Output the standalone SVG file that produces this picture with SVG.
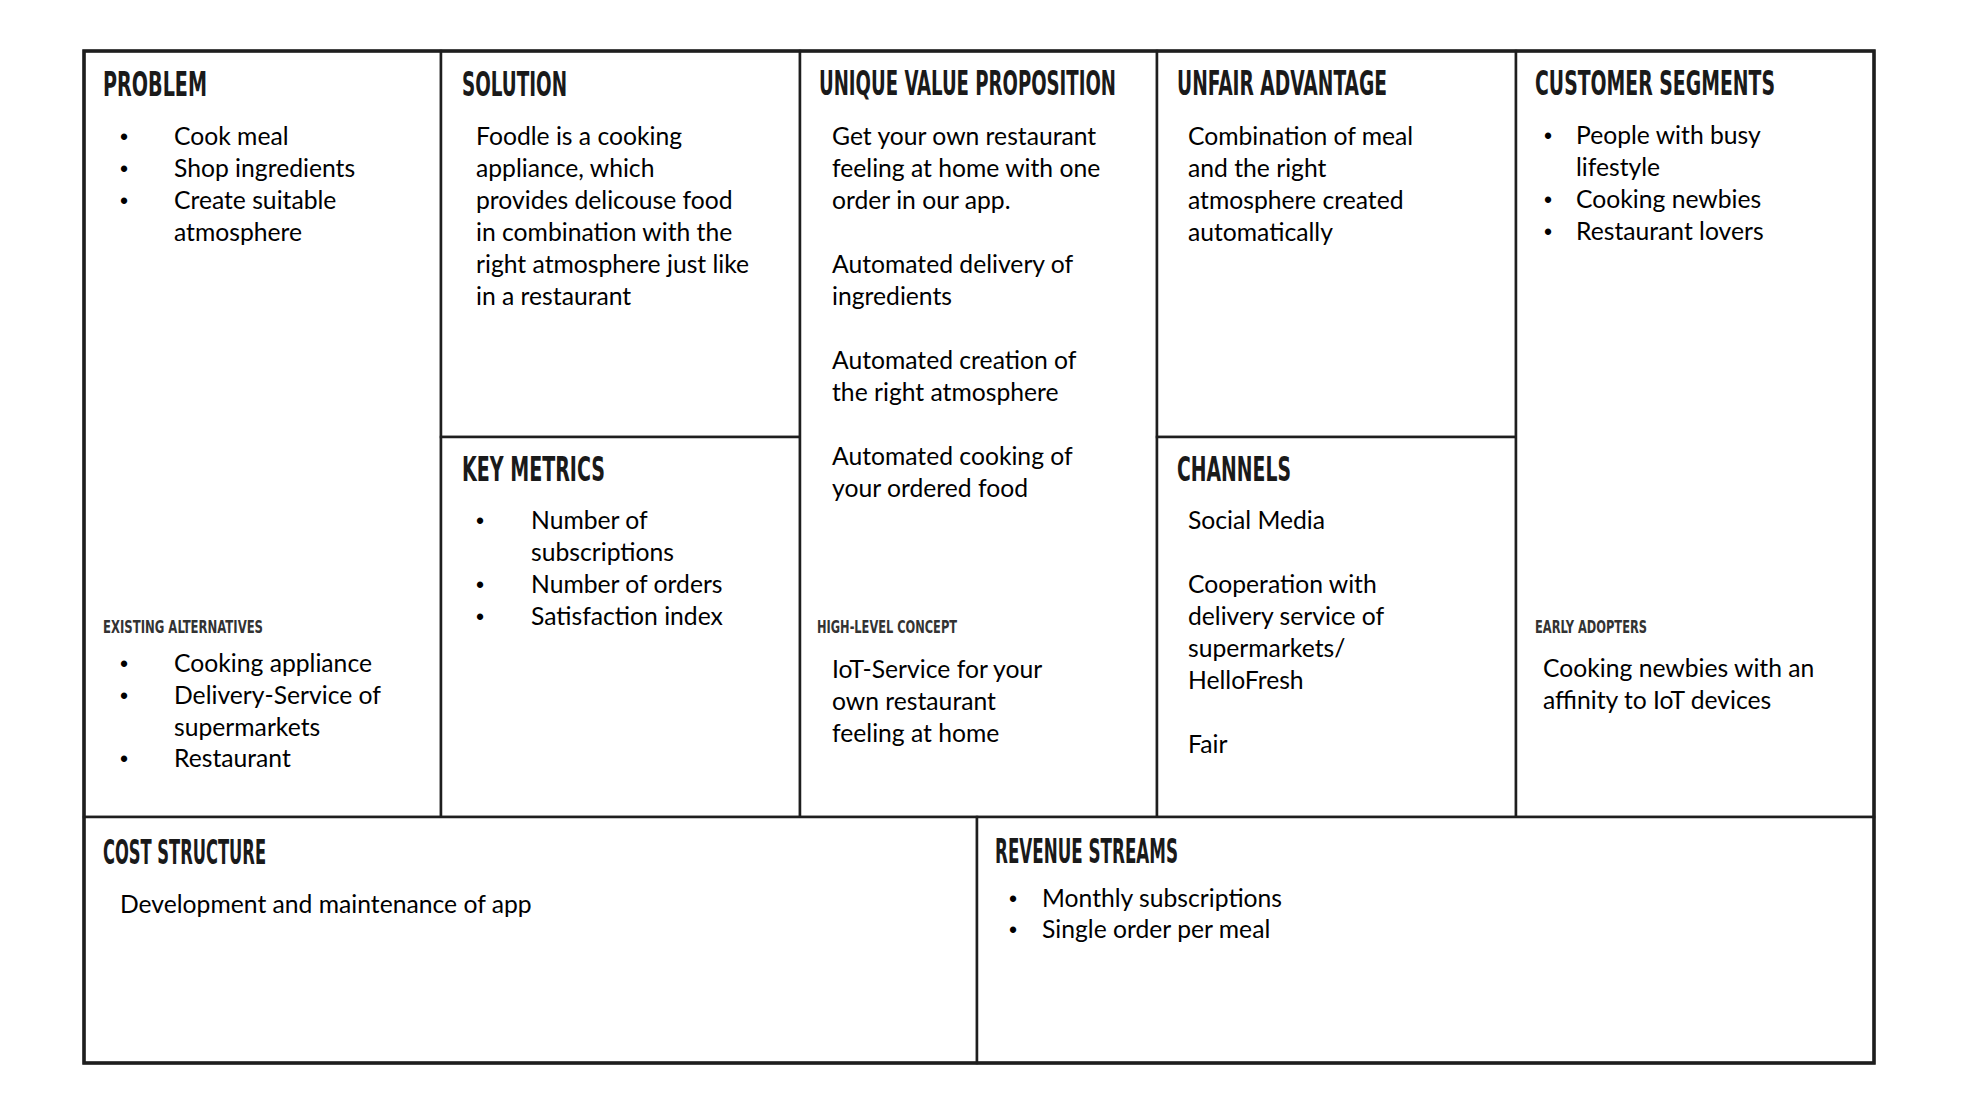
<svg xmlns="http://www.w3.org/2000/svg" width="1966" height="1096" viewBox="0 0 1966 1096">
<style>
.cell{fill:#fff;stroke:#1e1e1e;stroke-width:2.5}
.outer{fill:none;stroke:#1e1e1e;stroke-width:3.5}
.t{font-family:"Liberation Sans Narrow","DejaVu Sans Condensed","Liberation Sans",sans-serif;font-weight:bold;font-size:33px;fill:#1a1a1a}
.s{font-family:"Liberation Sans Narrow","DejaVu Sans Condensed","Liberation Sans",sans-serif;font-weight:bold;font-size:17px;fill:#333}
.b{font-family:Lato,"Open Sans","Liberation Sans",sans-serif;font-size:24.7px;fill:#000}
.d{font-family:"Liberation Sans",sans-serif;font-size:23px;fill:#000;text-anchor:middle}
</style>
<rect width="1966" height="1096" fill="#fff"/>
<g id="problem">
<rect class="cell" x="84" y="51" width="357" height="766"/>
<text class="t" transform="translate(103,96) scale(0.7,1)" textLength="148.6" lengthAdjust="spacingAndGlyphs">PROBLEM</text>
<text class="d" x="124" y="145">•</text><text class="b" x="174" y="145">Cook meal</text>
<text class="d" x="124" y="177">•</text><text class="b" x="174" y="177">Shop ingredients</text>
<text class="d" x="124" y="209">•</text><text class="b" x="174" y="209">Create suitable</text>
<text class="b" x="174" y="241">atmosphere</text>
<text class="s" transform="translate(103,633) scale(0.7,1)" textLength="228.6" lengthAdjust="spacingAndGlyphs">EXISTING ALTERNATIVES</text>
<text class="d" x="124" y="672">•</text><text class="b" x="174" y="672">Cooking appliance</text>
<text class="d" x="124" y="704">•</text><text class="b" x="174" y="704">Delivery-Service of</text>
<text class="b" x="174" y="736">supermarkets</text>
<text class="d" x="124" y="767">•</text><text class="b" x="174" y="767">Restaurant</text>
</g>
<g id="solution">
<rect class="cell" x="441" y="51" width="359" height="386"/>
<text class="t" transform="translate(462,96) scale(0.7,1)" textLength="150" lengthAdjust="spacingAndGlyphs">SOLUTION</text>
<text class="b" x="476" y="145">Foodle is a cooking</text>
<text class="b" x="476" y="177">appliance, which</text>
<text class="b" x="476" y="209">provides delicouse food</text>
<text class="b" x="476" y="241">in combination with the</text>
<text class="b" x="476" y="273">right atmosphere just like</text>
<text class="b" x="476" y="305">in a restaurant</text>
</g>
<g id="key-metrics">
<rect class="cell" x="441" y="437" width="359" height="380"/>
<text class="t" transform="translate(462,481) scale(0.7,1)" textLength="204.3" lengthAdjust="spacingAndGlyphs">KEY METRICS</text>
<text class="d" x="480" y="529">•</text><text class="b" x="531" y="529">Number of</text>
<text class="b" x="531" y="561">subscriptions</text>
<text class="d" x="480" y="593">•</text><text class="b" x="531" y="593">Number of orders</text>
<text class="d" x="480" y="625">•</text><text class="b" x="531" y="625">Satisfaction index</text>
</g>
<g id="unique-value-proposition">
<rect class="cell" x="800" y="51" width="357" height="766"/>
<text class="t" transform="translate(819,95) scale(0.7,1)" textLength="424.3" lengthAdjust="spacingAndGlyphs">UNIQUE VALUE PROPOSITION</text>
<text class="b" x="832" y="145">Get your own restaurant</text>
<text class="b" x="832" y="177">feeling at home with one</text>
<text class="b" x="832" y="209">order in our app.</text>
<text class="b" x="832" y="273">Automated delivery of</text>
<text class="b" x="832" y="305">ingredients</text>
<text class="b" x="832" y="369">Automated creation of</text>
<text class="b" x="832" y="401">the right atmosphere</text>
<text class="b" x="832" y="465">Automated cooking of</text>
<text class="b" x="832" y="497">your ordered food</text>
<text class="s" transform="translate(817,633) scale(0.7,1)" textLength="200" lengthAdjust="spacingAndGlyphs">HIGH-LEVEL CONCEPT</text>
<text class="b" x="832" y="678">IoT-Service for your</text>
<text class="b" x="832" y="710">own restaurant</text>
<text class="b" x="832" y="742">feeling at home</text>
</g>
<g id="unfair-advantage">
<rect class="cell" x="1157" y="51" width="359" height="386"/>
<text class="t" transform="translate(1177,95) scale(0.7,1)" textLength="300" lengthAdjust="spacingAndGlyphs">UNFAIR ADVANTAGE</text>
<text class="b" x="1188" y="145">Combination of meal</text>
<text class="b" x="1188" y="177">and the right</text>
<text class="b" x="1188" y="209">atmosphere created</text>
<text class="b" x="1188" y="241">automatically</text>
</g>
<g id="channels">
<rect class="cell" x="1157" y="437" width="359" height="380"/>
<text class="t" transform="translate(1177,481) scale(0.7,1)" textLength="162.9" lengthAdjust="spacingAndGlyphs">CHANNELS</text>
<text class="b" x="1188" y="529">Social Media</text>
<text class="b" x="1188" y="593">Cooperation with</text>
<text class="b" x="1188" y="625">delivery service of</text>
<text class="b" x="1188" y="657">supermarkets/</text>
<text class="b" x="1188" y="689">HelloFresh</text>
<text class="b" x="1188" y="753">Fair</text>
</g>
<g id="customer-segments">
<rect class="cell" x="1516" y="51" width="358" height="766"/>
<text class="t" transform="translate(1535,95) scale(0.7,1)" textLength="342.9" lengthAdjust="spacingAndGlyphs">CUSTOMER SEGMENTS</text>
<text class="d" x="1548" y="144">•</text><text class="b" x="1576" y="144">People with busy</text>
<text class="b" x="1576" y="176">lifestyle</text>
<text class="d" x="1548" y="208">•</text><text class="b" x="1576" y="208">Cooking newbies</text>
<text class="d" x="1548" y="240">•</text><text class="b" x="1576" y="240">Restaurant lovers</text>
<text class="s" transform="translate(1535,633) scale(0.7,1)" textLength="160" lengthAdjust="spacingAndGlyphs">EARLY ADOPTERS</text>
<text class="b" x="1543" y="677">Cooking newbies with an</text>
<text class="b" x="1543" y="709">affinity to IoT devices</text>
</g>
<g id="cost-structure">
<rect class="cell" x="84" y="817" width="893" height="246"/>
<text class="t" transform="translate(103,864) scale(0.7,1)" textLength="232.9" lengthAdjust="spacingAndGlyphs">COST STRUCTURE</text>
<text class="b" x="120" y="913">Development and maintenance of app</text>
</g>
<g id="revenue-streams">
<rect class="cell" x="977" y="817" width="897" height="246"/>
<text class="t" transform="translate(995,863) scale(0.7,1)" textLength="261.4" lengthAdjust="spacingAndGlyphs">REVENUE STREAMS</text>
<text class="d" x="1013" y="907">•</text><text class="b" x="1042" y="907">Monthly subscriptions</text>
<text class="d" x="1013" y="938">•</text><text class="b" x="1042" y="938">Single order per meal</text>
</g>
<g id="connectors"></g>
<rect class="outer" x="84" y="51" width="1790" height="1012"/>
</svg>
